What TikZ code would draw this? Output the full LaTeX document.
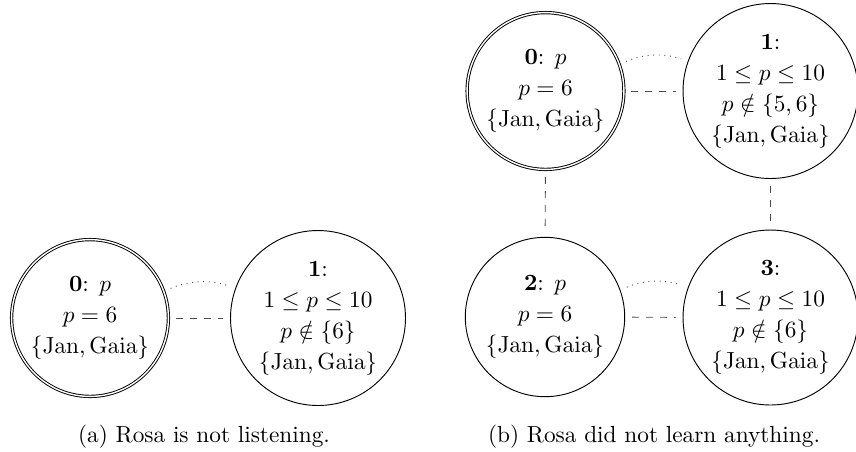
\documentclass[tikz,border=0pt]{standalone}
\usetikzlibrary{positioning}
\begin{document}
\begin{tikzpicture}[x=0.4292pt,y=-0.4292pt,
  world/.style={circle, draw=black, line width=0.4pt, align=center, inner sep=0pt,
    font=\fontsize{10}{13.3}\selectfont},
  smallw/.style={world, minimum size=68.4pt},
  bigw/.style={world, minimum size=75.1pt},
  actual/.style={double, double distance=0.6pt, minimum size=67.3pt},
  link/.style={dashed, draw=black!70, line width=0.4pt, shorten <=3pt, shorten >=3pt},
  indist/.style={dotted, draw=black!70, line width=0.4pt, bend left=20, shorten <=3pt, shorten >=3pt},
  caption/.style={anchor=base, font=\fontsize{10}{12}\selectfont, inner sep=0pt}
]
\useasboundingbox (0,0) rectangle (856,451);

% (a)
\node[smallw, actual] (a0) at (90,318) {\textbf{0}: $p$\\ $p=6$\\ $\{\mathrm{Jan},\mathrm{Gaia}\}$};
\node[bigw] (a1) at (318,318) {\textbf{1}:\\ $1\leq p\leq 10$\\ $p\notin\{6\}$\\ $\{\mathrm{Jan},\mathrm{Gaia}\}$};
\draw[link] (a0) -- (a1);
\draw[indist] (a0) to (a1);
\node[caption] (capa) at (204,442) {(a) Rosa is not listening.};

% (b)
\node[smallw, actual] (b0) at (545.5,91) {\textbf{0}: $p$\\ $p=6$\\ $\{\mathrm{Jan},\mathrm{Gaia}\}$};
\node[bigw] (b1) at (770.5,91) {\textbf{1}:\\ $1\leq p\leq 10$\\ $p\notin\{5,6\}$\\ $\{\mathrm{Jan},\mathrm{Gaia}\}$};
\node[smallw] (b2) at (545,317) {\textbf{2}: $p$\\ $p=6$\\ $\{\mathrm{Jan},\mathrm{Gaia}\}$};
\node[bigw] (b3) at (770.5,317.5) {\textbf{3}:\\ $1\leq p\leq 10$\\ $p\notin\{6\}$\\ $\{\mathrm{Jan},\mathrm{Gaia}\}$};
\draw[link] (b0) -- (b1);
\draw[indist] (b0) to (b1);
\draw[link] (b2) -- (b3);
\draw[indist] (b2) to (b3);
\draw[link] (b0) -- (b2);
\draw[link] (b1) -- (b3);
\node[caption] (capb) at (654,442) {(b) Rosa did not learn anything.};
\end{tikzpicture}
\end{document}
